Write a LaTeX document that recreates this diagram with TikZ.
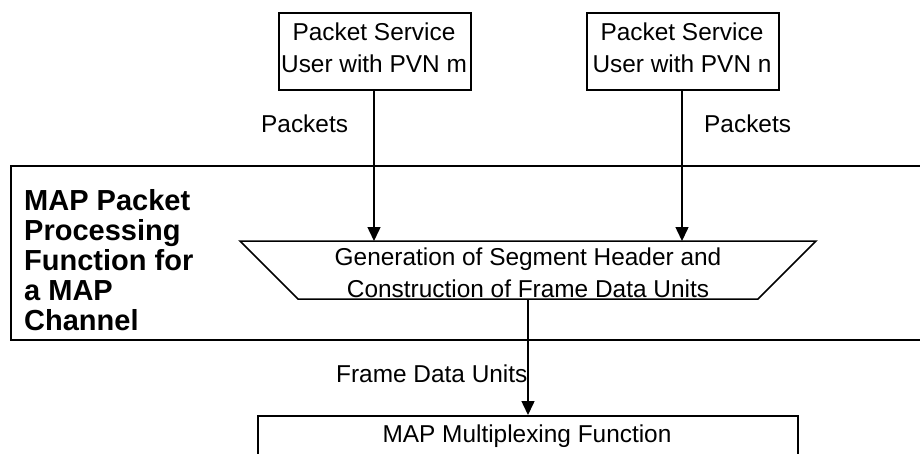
\documentclass[tikz,border=0pt]{standalone}
\usepackage{fontspec}
\setmainfont{Liberation Sans}
\usetikzlibrary{arrows.meta,shapes.geometric}
\tikzset{
  every node/.style={font=\fontsize{24.4}{31.5}\selectfont, inner sep=0pt, align=center},
  boxstyle/.style={draw=black, line width=1.5pt},
  conn/.style={line width=1.5pt, -{Triangle[length=14pt,width=13pt]}},
  lab/.style={anchor=base west},
  boldlab/.style={anchor=north west, align=left, font=\fontsize{29}{30}\selectfont\bfseries},
}
\begin{document}
\begin{tikzpicture}[x=1pt,y=-1pt]
\useasboundingbox (0,0) rectangle (920,453);
\clip (0,0) rectangle (920,453);
\fill[white] (0,0) rectangle (920,453);
\node[boxstyle, anchor=north west, minimum width=192pt, minimum height=77pt] (boxm) at (278,12) {};
\node (userm) at (374,48) {Packet Service\\User with PVN m};
\node[boxstyle, anchor=north west, minimum width=192pt, minimum height=77pt] (boxn) at (586,12) {};
\node (usern) at (682,48) {Packet Service\\User with PVN n};
\node[boxstyle, anchor=north west, minimum width=1000pt, minimum height=174pt] (outer) at (10,165) {};
\coordinate (tl) at (240,241); \coordinate (tr) at (816,241);
\coordinate (br) at (758,299); \coordinate (bl) at (298,299);
\draw[boxstyle, line join=miter] (tl) -- (tr) -- (br) -- (bl) -- cycle;
\node (gen) at (528,273) {Generation of Segment Header and\\Construction of Frame Data Units};
\node[boxstyle, anchor=north west, minimum width=540pt, minimum height=80pt] (mux) at (257,415) {};
\node[anchor=base] (muxt) at (527,442) {MAP Multiplexing Function};
\coordinate (ma) at (374,241); \coordinate (na) at (682,241);
\coordinate (gb) at (528,299); \coordinate (mt) at (528,415);
\coordinate (ms) at (374,89); \coordinate (ns) at (682,89);
\draw[conn] (ms) -- (ma);
\draw[conn] (ns) -- (na);
\draw[conn] (gb) -- (mt);
\node[lab] (p1) at (261,132) {Packets};
\node[lab] (p2) at (704,132) {Packets};
\node[lab] (fdu) at (336,382) {Frame Data Units};
\node[boldlab] (title) at (24,189) {MAP Packet\\Processing\\Function for\\a MAP\\Channel};
\end{tikzpicture}
\end{document}
